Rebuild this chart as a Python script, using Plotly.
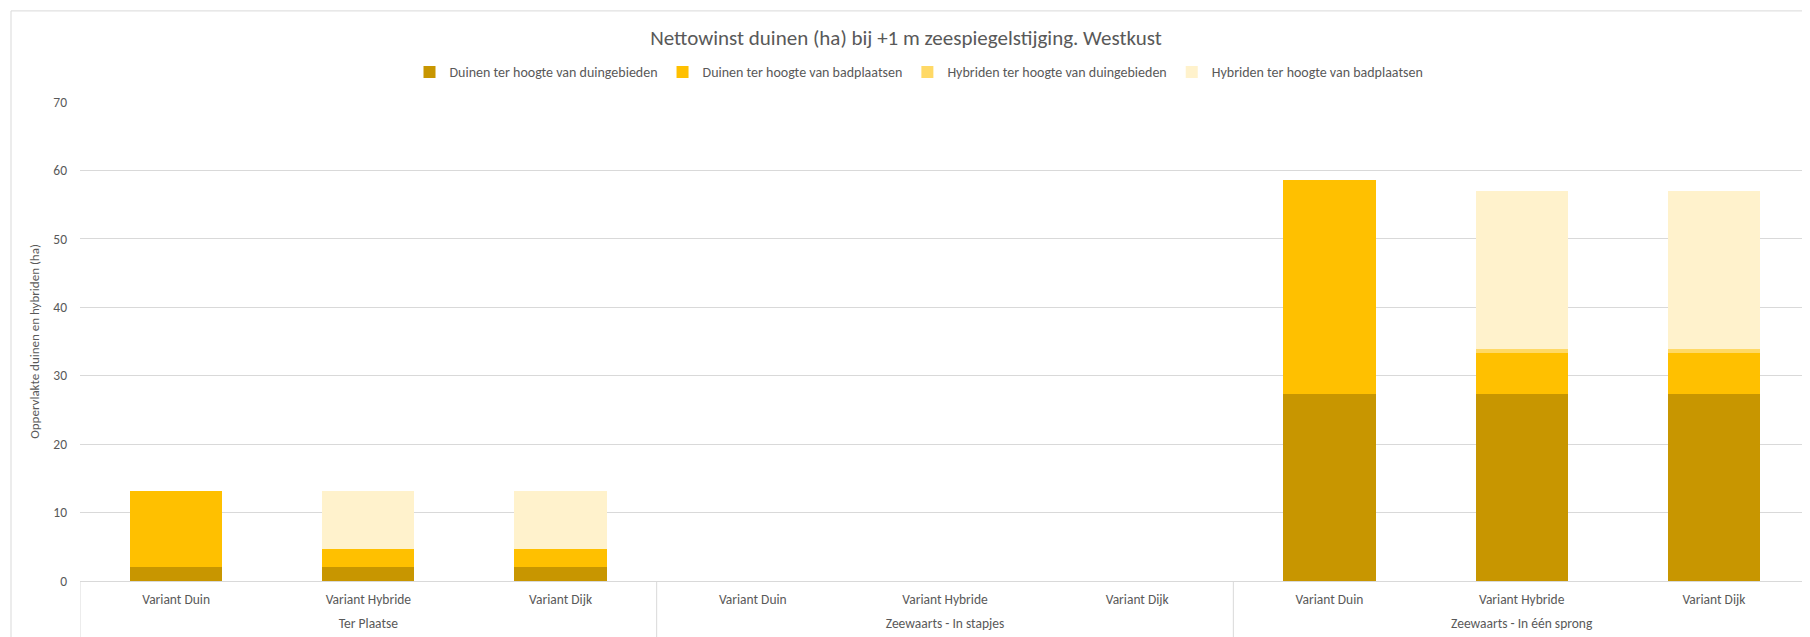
import plotly.graph_objects as go

groups = ["Ter Plaatse", "Zeewaarts - In stapjes", "Zeewaarts - In één sprong"]
variants = ["Variant Duin", "Variant Hybride", "Variant Dijk"]

categories = [(g, v) for g in groups for v in variants]
cat_labels = [v for g, v in categories]

duinen_duingebieden = [2.1, 2.1, 2.1, 0, 0, 0, 27.3, 27.3, 27.3]
duinen_badplaatsen = [11.0, 2.6, 2.6, 0, 0, 0, 31.3, 5.95, 5.95]
hybriden_duingebieden = [0, 0, 0, 0, 0, 0, 0, 0.7, 0.7]
hybriden_badplaatsen = [0, 8.5, 8.5, 0, 0, 0, 0, 23.1, 23.1]

series = [
    ("Duinen ter hoogte van duingebieden", duinen_duingebieden, "#C89600"),
    ("Duinen ter hoogte van badplaatsen", duinen_badplaatsen, "#FFC000"),
    ("Hybriden ter hoogte van duingebieden", hybriden_duingebieden, "#FFD966"),
    ("Hybriden ter hoogte van badplaatsen", hybriden_badplaatsen, "#FFF2CC"),
]

FONT = "Carlito, Lato, sans-serif"
GREY = "#595959"
LINE = "#D9D9D9"

xpos = list(range(len(categories)))
n_var = len(variants)
group_centers = [i * n_var + (n_var - 1) / 2 for i in range(len(groups))]

fig = go.Figure()
for name, vals, col in series:
    fig.add_trace(go.Bar(
        x=xpos, y=vals, name=name,
        marker=dict(color=col, line=dict(width=0)),
    ))

# page body has an 8px margin: compensate
OFF = 8
W, H = 1810 - OFF, 637 - OFF
L, R, T, B = 80 - OFF, 0, 101.6 - OFF, 56.4
pw = W - L - R
ph = H - T - B

fig.update_layout(
    width=W, height=H,
    barmode="stack", bargap=0.52,
    paper_bgcolor="white", plot_bgcolor="white",
    margin=dict(l=L, r=R, t=T, b=B, autoexpand=False),
    font=dict(family=FONT, color=GREY, size=13),
    title=dict(text="Nettowinst duinen (ha) bij +1 m zeespiegelstijging. Westkust",
               x=(906 - OFF) / W, xanchor="center", y=1 - (38 - OFF) / H, yanchor="middle",
               font=dict(size=21, color=GREY, family=FONT)),
    legend=dict(orientation="h", x=(919 - 80) / pw, xanchor="center",
                y=1 + (101.6 - 72) / ph, yanchor="middle",
                font=dict(size=14, color=GREY, family=FONT),
                traceorder="normal", bgcolor="rgba(0,0,0,0)"),
    showlegend=True,
    xaxis=dict(range=[-0.5, len(categories) - 0.5], tickmode="array", tickvals=xpos,
               ticktext=cat_labels, showline=True, linecolor=LINE, linewidth=1,
               ticks="", showgrid=False, zeroline=False, ticklabelstandoff=6,
               tickfont=dict(size=13.5, color=GREY)),
    xaxis2=dict(range=[-0.5, len(categories) - 0.5], overlaying="x", anchor="y", side="bottom",
                tickmode="array", tickvals=group_centers, ticktext=groups,
                showline=False, ticks="", showgrid=False, zeroline=False,
                ticklabelstandoff=32, tickfont=dict(size=13.5, color=GREY)),
    yaxis=dict(range=[0, 70], dtick=10, showgrid=True, gridcolor=LINE, gridwidth=1,
               zeroline=False, showline=False, ticks="", ticklabelstandoff=12,
               tickfont=dict(size=13.5, color=GREY),
               title=dict(text="Oppervlakte duinen en hybriden (ha)",
                          font=dict(size=13, color=GREY), standoff=10)),
)

# dummy trace to activate xaxis2 (group labels)
fig.add_trace(go.Scatter(x=group_centers, y=[None] * len(groups), xaxis="x2",
                         showlegend=False, hoverinfo="skip", mode="markers"))

# group dividers below the axis
for k in range(len(groups)):
    xb = k * n_var - 0.5
    fig.add_shape(type="line", xref="x", yref="paper", x0=xb, x1=xb, y0=0, y1=-B / ph,
                  line=dict(color=LINE, width=1))

# chart area border (cut off on right/bottom like reference)
fig.add_shape(type="rect", xref="paper", yref="paper",
              x0=(11 - 80) / pw, x1=1.01, y0=-0.2, y1=1 + (101.6 - 10.5) / ph,
              line=dict(color=LINE, width=1), fillcolor="rgba(0,0,0,0)", layer="below")

fig.write_html("out.html")
